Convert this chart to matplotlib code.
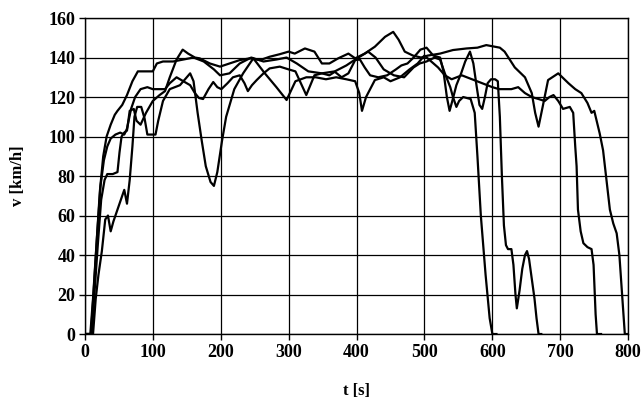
import matplotlib
matplotlib.use("Agg")
import matplotlib.pyplot as plt

# run 1 - stops around t = 600 s
t1 = [0, 8, 12, 17, 22, 27, 32, 38, 44, 48, 55, 62, 70, 78, 90, 100, 106, 115, 130, 145,
      160, 175, 190, 199, 213, 228, 245, 263, 282, 297, 312, 329, 349, 368, 385, 398, 417,
      428, 440, 455, 470, 484, 493, 503, 515, 523, 530, 538, 542, 547, 551, 557, 568, 574,
      578, 583, 590, 596, 600, 606]
v1 = [0, 0, 18, 45, 72, 90, 100, 106, 111, 113, 116, 121, 128, 133, 133, 133, 137, 138, 138, 139,
      140, 138, 134, 131, 132, 137, 140, 138, 139, 140, 137, 133, 132, 133, 136, 139, 143,
      140, 134, 131, 130, 135, 137, 138, 140, 139, 132, 125, 120, 115, 118, 120, 119, 112,
      90, 60, 30, 8, 0, 0]

# run 2 - stops around t = 795 s
t2 = [0, 10, 14, 19, 24, 29, 33, 41, 48, 51, 54, 58, 62, 66, 72, 76, 82, 90, 100, 110,
      118, 125, 135, 144, 152, 162, 169, 184, 199, 213, 228, 243, 258, 272, 287, 300, 309,
      324, 338, 349, 360, 373, 388, 398, 412, 427, 442, 454, 462, 471, 483, 495, 505, 523,
      542, 562, 578, 591, 611, 618, 633, 648, 658, 663, 668, 674, 682, 697, 712, 722, 731,
      740, 746, 750, 758, 763, 768, 773, 778, 783, 787, 791, 795, 800]
v2 = [0, 0, 20, 45, 68, 78, 81, 81, 82, 92, 100, 102, 103, 113, 114, 108, 106, 112, 118, 121,
      123, 130, 139, 144, 142, 140, 139.6, 137, 135.4, 137, 138.7, 139.6, 138.7, 140.4, 141.7, 143, 142,
      144.6, 143, 137, 137, 139.6, 142, 139.6, 142, 145.5, 150.5, 153, 149, 143, 141, 140, 141, 142,
      143.8, 144.6, 145, 146.3, 145, 143, 135, 130, 122, 112, 105, 115, 128.6, 132, 127, 124, 122,
      117, 112, 113, 101.6, 93, 78, 63, 56, 51, 40, 20, 0, 0]

# run 3 - stops around t = 754 s
t3 = [0, 12, 16, 20, 25, 30, 34, 38, 42, 47, 53, 58, 62, 66, 70, 73, 77, 83, 88, 92,
      104, 108, 115, 125, 140, 150, 155, 160, 166, 172, 178, 185, 190, 195, 202, 208, 220,
      233, 248, 265, 282, 297, 310, 326, 340, 355, 370, 385, 398, 404, 408, 414, 427, 440,
      450, 464, 478, 490, 500, 510, 520, 530, 540, 555, 570, 585, 600, 610, 618, 628, 638,
      648, 658, 668, 677, 684, 690, 697, 704, 714, 719, 722, 724, 726, 730, 734, 740, 746,
      749, 752, 754, 760]
v3 = [0, 0, 18, 30, 42, 58, 60, 52, 57, 62, 68, 73, 66, 78, 95, 110, 115, 115, 109, 101,
      101, 108, 118, 124, 126, 130, 132, 128, 112, 98, 85, 77, 75, 82, 98, 110, 124,
      132, 139.6, 132, 125, 118.5, 128, 130, 130, 129, 130, 129, 128, 122, 113, 120, 128.6, 130,
      128, 130, 134, 137, 141, 138, 135, 131, 129, 131, 129, 127, 125, 124, 124, 124, 125,
      122, 120, 119, 118, 120, 121, 118, 114, 115, 112, 95, 85, 63, 52, 46, 44, 43,
      35, 10, 0, 0]

# run 4 - stops around t = 668 s
t4 = [0, 9, 13, 18, 23, 28, 33, 38, 45, 52, 58, 62, 68, 74, 82, 92, 100, 110, 118, 125,
      135, 145, 155, 162, 168, 174, 182, 189, 195, 201, 210, 218, 228, 235, 240, 246, 253,
      263, 272, 287, 300, 310, 318, 326, 332, 338, 349, 360, 368, 378, 388, 398, 405, 412,
      420, 432, 445, 458, 466, 475, 484, 494, 503, 513, 523, 528, 533, 537, 541, 547, 554,
      560, 567, 572, 577, 581, 585, 589, 593, 598, 604, 608, 611, 614, 617, 620, 623, 628,
      631, 634, 636, 640, 644, 648, 651, 654, 658, 662, 665, 668, 672]
v4 = [0, 0, 22, 50, 75, 88, 95, 99, 101, 102, 101, 104, 114, 120, 124, 125, 124, 124, 124, 127,
      130, 128, 126, 122, 119.5, 119, 124, 127.6, 125, 124, 127, 130, 131, 127, 123, 126, 128.6,
      132, 134.5, 135.4, 134, 133, 127, 121, 126, 131, 132, 131, 132.8, 130, 132, 138.7, 139, 135,
      131, 130, 131, 134, 136, 137, 140, 144, 145, 141, 140, 133, 120, 113, 118, 126, 132,
      138, 143, 137, 125, 116, 114, 120, 127, 129, 129, 128, 110, 80, 55, 45, 43, 43,
      35, 20, 13, 22, 33, 40, 42, 38, 28, 18, 8, 0, 0]

x_ticks = [0, 100, 200, 300, 400, 500, 600, 700, 800]
y_ticks = [0, 20, 40, 60, 80, 100, 120, 140, 160]

plt.rcParams['font.family'] = ['Liberation Serif', 'DejaVu Serif']
plt.rcParams['font.weight'] = 'bold'

fig = plt.figure(figsize=(6.43, 4.01), dpi=100)
ax = fig.add_axes([0.132, 0.167, 0.845, 0.788])

for t, v in [(t1, v1), (t2, v2), (t3, v3), (t4, v4)]:
    ax.plot(t, v, color='black', lw=1.6, solid_joinstyle='round')

ax.set_xlim(0, 800)
ax.set_ylim(0, 160)
ax.set_xticks(x_ticks)
ax.set_yticks(y_ticks)
ax.grid(True, color='black', lw=0.9)
ax.set_axisbelow(True)
for s in ax.spines.values():
    s.set_color('black')
    s.set_linewidth(1.0)
ax.tick_params(direction='out', length=4, width=1, labelsize=13, pad=3)
for lab in ax.get_xticklabels() + ax.get_yticklabels():
    lab.set_fontweight('bold')

ax.set_xlabel('t [s]', fontsize=12, fontweight='bold', labelpad=16)
ax.set_ylabel('v [km/h]', fontsize=12, fontweight='bold', labelpad=16)

fig.savefig('out.png', dpi=100)
